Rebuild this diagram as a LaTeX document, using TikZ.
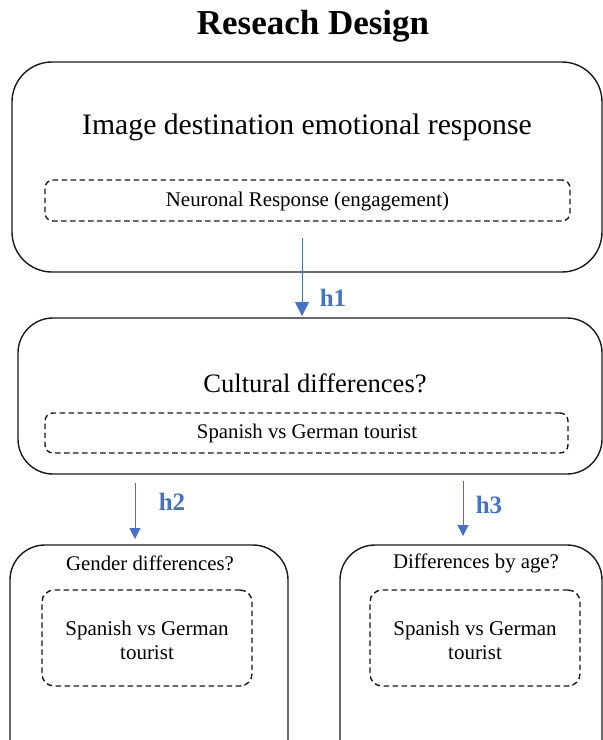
\documentclass[tikz,border=0pt]{standalone}
\usepackage{fontspec}
\setmainfont{Liberation Serif}
\usetikzlibrary{arrows.meta}
\definecolor{arrowblue}{HTML}{4472C4}
\tikzset{
  outerbox/.style={draw=black!90, line width=1.4pt, rounded corners=#1, inner sep=0pt, outer sep=0pt},
  innerbox/.style={draw=black!90, line width=1.4pt, dash pattern=on 5.5pt off 3.5pt, rounded corners=#1, inner sep=0pt, outer sep=0pt},
  txt/.style={inner sep=0pt, align=center, font=\fontsize{#1}{#1}\selectfont},
  hlabel/.style={inner sep=0pt, text=arrowblue, font=\fontsize{25}{25}\selectfont\bfseries},
  hyparrow/.style={draw=arrowblue, line width=1pt, -{Triangle[width=#1,length=#1]}}
}
\begin{document}
\begin{tikzpicture}[x=1pt,y=-1pt]
\useasboundingbox (0,0) rectangle (603,740);
\clip (0,0) rectangle (603,740);
% title
\node[txt=35] (title) at (313,26) {\textbf{Reseach Design}};
% box 1
\node[outerbox=40pt, minimum width=590pt, minimum height=210pt] (b1) at (307,167) {};
\node[txt=29.7] (t1) at (307,127) {Image destination emotional response};
\node[innerbox=8pt, minimum width=525pt, minimum height=41pt] (d1) at (307.5,200.5) {};
\node[txt=20.9] (t1b) at (307.5,201) {Neuronal Response (engagement)};
% box 2
\node[outerbox=35pt, minimum width=584pt, minimum height=156pt] (b2) at (310,396) {};
\node[txt=26.6] (t2) at (315,383) {Cultural differences?};
\node[innerbox=8pt, minimum width=523pt, minimum height=40pt] (d2) at (306.5,433) {};
\node[txt=20.8] (t2b) at (307,433) {Spanish vs German tourist};
% box 3
\node[outerbox=35pt, minimum width=278pt, minimum height=230pt] (b3) at (149,660) {};
\node[txt=20.8] (t3) at (150,563) {Gender differences?};
\node[innerbox=12pt, minimum width=210pt, minimum height=96pt] (d3) at (147,638) {};
\node[txt=21, align=center] (t3b) at (147,640) {Spanish vs German\\[3pt]tourist};
% box 4
\node[outerbox=35pt, minimum width=262pt, minimum height=230pt] (b4) at (471,660) {};
\node[txt=20.8] (t4) at (476,563) {Differences by age?};
\node[innerbox=12pt, minimum width=210pt, minimum height=96pt] (d4) at (475,638) {};
\node[txt=21, align=center] (t4b) at (475,640) {Spanish vs German\\[3pt]tourist};
% arrows
\coordinate (a1) at (302,238);
\coordinate (a2) at (135,483);
\coordinate (a3) at (463,481);
\draw[hyparrow=14pt] (a1) -- ([yshift=2pt]a1 |- b2.north);
\draw[hyparrow=11pt] (a2) -- ([yshift=6pt]a2 |- b3.north);
\draw[hyparrow=11pt] (a3) -- ([yshift=9pt]a3 |- b4.north);
\node[hlabel] (h1) at (333,298) {h1};
\node[hlabel] (h2) at (172,502) {h2};
\node[hlabel] (h3) at (489,505) {h3};
\end{tikzpicture}
\end{document}
